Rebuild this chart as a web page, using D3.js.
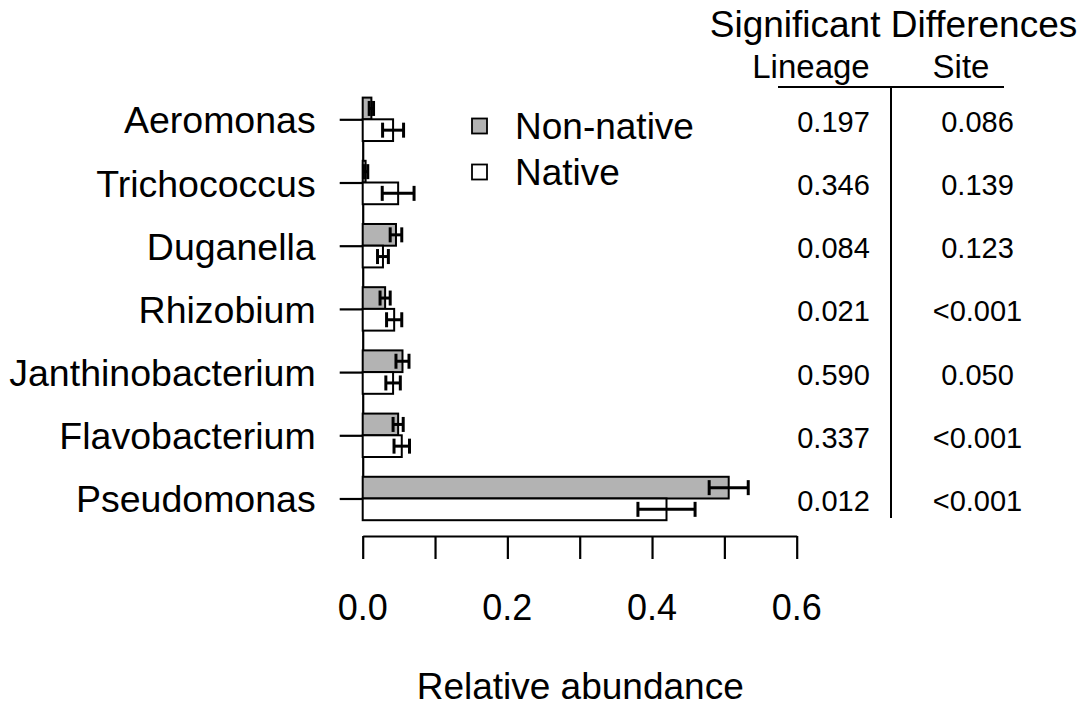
<!DOCTYPE html>
<html>
<head>
<meta charset="utf-8">
<script src="https://cdn.jsdelivr.net/npm/d3@7"></script>
<style>
  html, body { margin: 0; padding: 0; background: #fff; }
  svg { display: block; font-family: "Liberation Sans", Arial, sans-serif; }
</style>
</head>
<body>
<svg id="chart" width="1089" height="716"></svg>
<script>
// Genera, top to bottom
const categories = ["Aeromonas", "Trichococcus", "Duganella", "Rhizobium",
                    "Janthinobacterium", "Flavobacterium", "Pseudomonas"];
const groups = ["Non-native", "Native"];

// Mean relative abundance and standard error per genus
const nonNativeMean = [0.012, 0.004, 0.046, 0.031, 0.055, 0.049, 0.506];
const nonNativeSE   = [0.003, 0.003, 0.008, 0.007, 0.009, 0.007, 0.027];
const nativeMean    = [0.042, 0.049, 0.028, 0.0435, 0.042, 0.054, 0.420];
const nativeSE      = [0.0145, 0.022, 0.0075, 0.0105, 0.010, 0.0107, 0.0395];

// Significance table (p-values)
const lineageP = ["0.197", "0.346", "0.084", "0.021", "0.590", "0.337", "0.012"];
const siteP    = ["0.086", "0.139", "0.123", "<0.001", "0.050", "<0.001", "<0.001"];

// Axis ticks
const xTicks = [0, 0.1, 0.2, 0.3, 0.4, 0.5, 0.6];
const xTickLabels = ["0.0", "0.2", "0.4", "0.6"];
const xLabelValues = [0, 0.2, 0.4, 0.6];

const fills = { "Non-native": "#b3b3b3", "Native": "#ffffff" };
const FONT = '"Liberation Sans", Arial, sans-serif';

const svg = d3.select("#chart");

const x = d3.scaleLinear().domain([0, 0.6]).range([362.7, 796.7]);
const y0 = d3.scaleBand().domain(categories).range([97.6, 520.2])
  .paddingInner(0.313).paddingOuter(0);
const y1 = d3.scaleBand().domain(groups).range([0, y0.bandwidth()]);
const yc = d => y0(d) + y0.bandwidth() / 2;

const rows = categories.map((c, i) => ({
  cat: c,
  vals: [
    { g: "Non-native", m: nonNativeMean[i], se: nonNativeSE[i] },
    { g: "Native", m: nativeMean[i], se: nativeSE[i] }
  ]
}));

// Left axis: line between first and last category with outward ticks
const yPoint = d3.scalePoint().domain(categories)
  .range([yc(categories[0]), yc(categories[categories.length - 1])]);
const leftAxis = svg.append("g")
  .attr("transform", `translate(${x(0)},0)`)
  .call(d3.axisLeft(yPoint).tickSize(23).tickSizeOuter(0).tickPadding(24));
leftAxis.selectAll("path, line").attr("stroke", "#000").attr("stroke-width", 2.2);
leftAxis.selectAll("text")
  .attr("font-family", FONT).attr("font-size", 37.5).attr("fill", "#000")
  .attr("dy", "0.36em");

// Bars
const gRow = svg.append("g").selectAll("g").data(rows).join("g")
  .attr("transform", d => `translate(0,${y0(d.cat)})`);

gRow.selectAll("rect").data(d => d.vals).join("rect")
  .attr("x", x(0))
  .attr("y", d => y1(d.g))
  .attr("width", d => x(d.m) - x(0))
  .attr("height", y1.bandwidth())
  .attr("fill", d => fills[d.g])
  .attr("stroke", "#000")
  .attr("stroke-width", 2);

// Error bars with flat caps
const cap = 7.5;
const eb = gRow.selectAll("g.err").data(d => d.vals).join("g").attr("class", "err")
  .attr("stroke", "#000").attr("stroke-width", 3);
eb.append("line")
  .attr("x1", d => x(d.m - d.se)).attr("x2", d => x(d.m + d.se))
  .attr("y1", d => y1(d.g) + y1.bandwidth() / 2)
  .attr("y2", d => y1(d.g) + y1.bandwidth() / 2);
eb.append("line")
  .attr("x1", d => x(d.m - d.se)).attr("x2", d => x(d.m - d.se))
  .attr("y1", d => y1(d.g) + y1.bandwidth() / 2 - cap)
  .attr("y2", d => y1(d.g) + y1.bandwidth() / 2 + cap);
eb.append("line")
  .attr("x1", d => x(d.m + d.se)).attr("x2", d => x(d.m + d.se))
  .attr("y1", d => y1(d.g) + y1.bandwidth() / 2 - cap)
  .attr("y2", d => y1(d.g) + y1.bandwidth() / 2 + cap);

// Bottom axis
const bottomAxis = svg.append("g")
  .attr("transform", "translate(0,536)")
  .call(d3.axisBottom(x).tickValues(xTicks).tickSize(23).tickSizeOuter(0).tickFormat(""));
bottomAxis.selectAll("path, line").attr("stroke", "#000").attr("stroke-width", 2.2);

svg.append("g").selectAll("text").data(xLabelValues).join("text")
  .attr("x", d => x(d)).attr("y", 620)
  .attr("text-anchor", "middle")
  .attr("font-family", FONT).attr("font-size", 36)
  .text((d, i) => xTickLabels[i]);

svg.append("text")
  .attr("x", (x(0) + x(0.6)) / 2 + 0.5).attr("y", 699)
  .attr("text-anchor", "middle")
  .attr("font-family", FONT).attr("font-size", 37)
  .text("Relative abundance");

// Legend
const legend = svg.append("g").selectAll("g").data(groups).join("g")
  .attr("transform", (d, i) => `translate(472,${126 + i * 46})`);
legend.append("rect")
  .attr("x", 0).attr("y", -7.5).attr("width", 15).attr("height", 15)
  .attr("fill", d => fills[d]).attr("stroke", "#000").attr("stroke-width", 1.8);
legend.append("text")
  .attr("x", 43).attr("y", 0).attr("dy", "0.36em")
  .attr("font-family", FONT).attr("font-size", 37)
  .text(d => d);

// Significance table
svg.append("text")
  .attr("x", 893.5).attr("y", 37).attr("text-anchor", "middle")
  .attr("font-family", FONT).attr("font-size", 37)
  .text("Significant Differences");
svg.append("text")
  .attr("x", 811).attr("y", 78).attr("text-anchor", "middle")
  .attr("font-family", FONT).attr("font-size", 33)
  .text("Lineage");
svg.append("text")
  .attr("x", 961).attr("y", 78).attr("text-anchor", "middle")
  .attr("font-family", FONT).attr("font-size", 33)
  .text("Site");
svg.append("line")
  .attr("x1", 778).attr("x2", 1004).attr("y1", 87).attr("y2", 87)
  .attr("stroke", "#000").attr("stroke-width", 2);
svg.append("line")
  .attr("x1", 891).attr("x2", 891).attr("y1", 87).attr("y2", 518)
  .attr("stroke", "#000").attr("stroke-width", 2);

const table = svg.append("g");
table.selectAll("text.lin").data(categories).join("text").attr("class", "lin")
  .attr("x", 833.5).attr("y", d => yc(d) + 2).attr("dy", "0.36em")
  .attr("text-anchor", "middle")
  .attr("font-family", FONT).attr("font-size", 29)
  .text((d, i) => lineageP[i]);
table.selectAll("text.site").data(categories).join("text").attr("class", "site")
  .attr("x", 977.5).attr("y", d => yc(d) + 2).attr("dy", "0.36em")
  .attr("text-anchor", "middle")
  .attr("font-family", FONT).attr("font-size", 29)
  .text((d, i) => siteP[i]);
</script>
</body>
</html>
